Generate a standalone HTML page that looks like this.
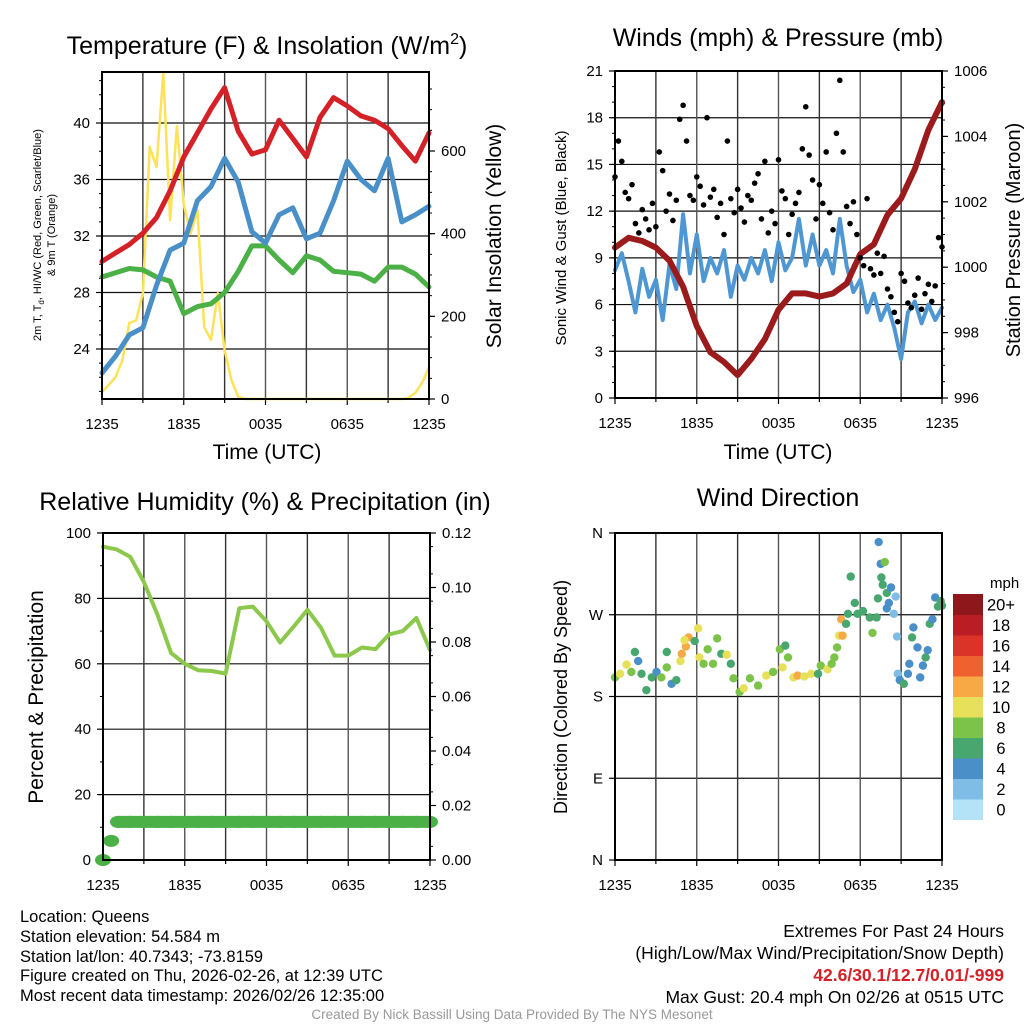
<!DOCTYPE html>
<html><head><meta charset="utf-8">
<style>
html,body{margin:0;padding:0;background:#fff;}
#wrap{position:relative;width:1024px;height:1024px;overflow:hidden;font-family:"Liberation Sans",sans-serif;}
svg text{font-family:"Liberation Sans",sans-serif;}
</style></head>
<body>
<div id="wrap">
<svg id="chart" width="1024" height="1024" viewBox="0 0 1024 1024" xmlns="http://www.w3.org/2000/svg">
<text x="267" y="54" font-size="25" text-anchor="middle">Temperature (F) &amp; Insolation (W/m<tspan dy="-10" font-size="16">2</tspan><tspan dy="10">)</tspan></text>
<text x="778" y="46" font-size="25" text-anchor="middle">Winds (mph) &amp; Pressure (mb)</text>
<text x="265" y="510" font-size="25" text-anchor="middle">Relative Humidity (%) &amp; Precipitation (in)</text>
<text x="778" y="506" font-size="25" text-anchor="middle">Wind Direction</text>
<text transform="translate(41,235) rotate(-90)" font-size="11" text-anchor="middle">2m T, T<tspan font-size="8" dy="3">d</tspan><tspan dy="-3">, HI/WC (Red, Green, Scarlet/Blue)</tspan></text>
<text transform="translate(55,235) rotate(-90)" font-size="11" text-anchor="middle">&amp; 9m T (Orange)</text>
<text transform="translate(501,236) rotate(-90)" font-size="21" text-anchor="middle">Solar Insolation (Yellow)</text>
<text x="267" y="459" font-size="21" text-anchor="middle">Time (UTC)</text>
<text x="778" y="459" font-size="21" text-anchor="middle">Time (UTC)</text>
<text transform="translate(566,238) rotate(-90)" font-size="15" text-anchor="middle">Sonic Wind &amp; Gust (Blue, Black)</text>
<text transform="translate(1020,240) rotate(-90)" font-size="20" text-anchor="middle">Station Pressure (Maroon)</text>
<text transform="translate(43,697) rotate(-90)" font-size="21" text-anchor="middle">Percent &amp; Precipitation</text>
<text transform="translate(567,697) rotate(-90)" font-size="18" text-anchor="middle">Direction (Colored By Speed)</text>
<g font-size="16.5">
<text x="20" y="922">Location: Queens</text>
<text x="20" y="942">Station elevation: 54.584 m</text>
<text x="20" y="962">Station lat/lon: 40.7343; -73.8159</text>
<text x="20" y="981">Figure created on Thu, 2026-02-26, at 12:39 UTC</text>
<text x="20" y="1001">Most recent data timestamp: 2026/02/26 12:35:00</text>
</g>
<g font-size="17.5" text-anchor="end">
<text x="1004" y="937">Extremes For Past 24 Hours</text>
<text x="1004" y="959">(High/Low/Max Wind/Precipitation/Snow Depth)</text>
<text x="1004" y="981" fill="#d42027" font-weight="bold">42.6/30.1/12.7/0.01/-999</text>
<text x="1004" y="1003">Max Gust: 20.4 mph On 02/26 at 0515 UTC</text>
</g>
<text x="512" y="1019" font-size="13.5" fill="#999" text-anchor="middle">Created By Nick Bassill Using Data Provided By The NYS Mesonet</text>
<text x="990" y="588" font-size="15">mph</text>
</svg>
</div>
<script>
// ---- data ----
const hoursHourly=[0,1,2,3,4,5,6,7,8,9,10,11,12,13,14,15,16,17,18,19,20,21,22,23,24];
const xTickLabels=["1235","1835","0035","0635","1235"];
const tempRed=[30.2,30.8,31.4,32.2,33.3,35.2,37.6,39.3,41.0,42.5,39.4,37.8,38.1,40.2,38.9,37.6,40.4,41.8,41.2,40.5,40.2,39.6,38.4,37.3,39.3];
const tempBlue=[22.3,23.5,25.0,25.5,28.5,31.0,31.5,34.5,35.5,37.5,35.8,32.3,31.5,33.5,34.0,31.8,32.2,34.5,37.3,36.0,35.2,37.5,33.0,33.5,34.1];
const tempGreen=[29.1,29.4,29.7,29.6,29.1,28.8,26.5,27.0,27.2,28.0,29.5,31.3,31.3,30.3,29.4,30.6,30.3,29.5,29.4,29.3,28.8,29.8,29.8,29.3,28.4];
const solarVals=[17,34,53,94,184,190,256,610,561,789,433,660,470,400,457,174,143,256,118,46,5,0,0,0,0,0,0,0,0,0,0,0,0,0,0,0,0,0,0,0,0,0,0,0,0,3,15,40,77];
const tempTicks=[24,28,32,36,40];
const solarTicks=[0,200,400,600];
const pressureVals=[1000.6,1000.9,1000.8,1000.6,1000.2,999.4,998.2,997.4,997.1,996.7,997.2,997.8,998.7,999.2,999.2,999.1,999.2,999.5,1000.4,1000.7,1001.6,1002.1,1003.0,1004.2,1005.05];
const windVals=[8.2,9.3,7.5,5.5,8.3,6.5,7.6,5.0,8.6,7.0,11.8,8.0,10.5,7.5,9.0,8.0,9.5,6.5,8.5,7.6,9.0,8.0,9.5,7.5,10.0,8.2,9.0,11.5,8.5,10.5,8.5,9.5,8.0,11.5,8.5,6.8,7.6,5.5,6.7,5.0,6.0,4.5,2.5,5.5,6.2,4.8,6.0,5.0,5.8];
const gustVals=[14.2,16.5,15.2,13.2,12.8,13.7,11.2,10.6,12.1,11.5,10.8,12.5,11.0,15.8,14.6,12.0,13.1,11.4,12.7,17.9,18.8,16.5,13.0,12.7,14.2,13.6,12.4,18.0,12.9,13.4,11.6,12.5,10.5,16.5,12.8,11.9,13.4,12.2,11.3,13.0,12.7,13.8,14.4,11.5,15.2,10.6,12.0,11.2,15.3,13.3,12.8,10.5,11.8,12.5,13.2,16.0,18.7,15.6,14.0,11.5,13.7,12.5,15.8,11.9,10.8,17.0,20.4,15.8,12.3,11.2,12.6,10.5,9.0,8.5,12.8,8.3,7.9,9.3,8.0,9.1,7.0,6.5,5.5,4.9,8.0,7.5,6.1,5.8,6.6,7.7,5.7,6.7,7.3,6.2,7.2,10.3,9.7];
const windTicks=[0,3,6,9,12,15,18,21];
const pressureTicks=[996,998,1000,1002,1004,1006];
const rhVals=[95.8,95.0,92.7,85.0,75.0,63.3,60.0,58.0,57.8,57.0,77.0,77.5,73.0,66.5,71.4,76.5,71.0,62.5,62.5,65.0,64.5,69.0,70.0,74.0,64.2];
const precipHours=[0,0.6,1.1,2,3,4,5,6,7,8,9,10,11,12,13,14,15,16,17,18,19,20,21,22,23,24];
const precipVals=[0,0.007,0.014,0.014,0.014,0.014,0.014,0.014,0.014,0.014,0.014,0.014,0.014,0.014,0.014,0.014,0.014,0.014,0.014,0.014,0.014,0.014,0.014,0.014,0.014,0.014];
const rhTicks=[0,20,40,60,80,100];
const precipTicks=["0.00","0.02","0.04","0.06","0.08","0.10","0.12"];
const dirHours=[0,0.37,0.85,1.2,1.46,1.7,1.95,2.3,2.7,3.05,3.4,3.8,3.8,4.15,4.5,4.8,4.9,5.2,5.4,5.1,5.85,6.1,6.2,6.5,6.8,7.2,7.5,7.8,8.2,8.5,8.7,9.15,9.45,9.9,10.5,11.1,11.6,12.1,12.5,12.3,12.7,13.1,13.4,13.9,14.4,14.9,15.1,15.6,15.9,16.1,16.3,16.45,16.6,16.7,16.96,17.1,17.3,17.6,17.8,18.2,18.7,18.9,19.2,19.3,19.35,19.5,19.8,19.55,19.65,19.95,20.1,20.26,19.95,20.46,20.6,20.7,20.75,20.9,21.2,21.5,21.6,21.8,21.9,22.2,22.4,22.6,22.8,22.95,23.1,23.3,23.5,23.7,23.9,24];
const dirDegrees=[201,205,215,207,229,219,205,187,201,207,201,212,229,194,198,219,227,235,245,242,241,255,223,216,232,216,244,227,226,216,200,185,189,200,192,203,207,232,236,212,223,201,203,202,205,205,214,210,216,223,234,247,265,247,260,271,312,283,271,274,267,250,267,288,350,326,328,311,303,294,283,300,277,271,290,246,205,198,194,205,216,245,256,234,201,214,223,231,260,265,289,279,285,280];
const dirSpeeds=[8,10,10,8,6,4,6,6,7,4,8,8,6,4,6,10,12,12,12,10,6,10,10,8,8,8,8,6,10,6,8,8,10,8,8,10,8,8,6,10,8,10,12,10,10,6,8,10,8,8,8,10,12,12,6,6,6,6,6,6,6,8,6,6,4,4,8,6,6,6,4,4,4,2,2,2,2,4,6,4,4,6,4,4,4,4,6,4,6,4,4,6,6,6];
const dirTickLabels=["N","E","S","W","N"];
const cbarLabels=["0","2","4","6","8","10","12","14","16","18","20+"];
const cbarColors=["#b4e3f8","#80bde6","#4a8fc7","#48a66f","#7cc34a","#e7e05a","#f6a944","#ef622f","#dc3328","#bb1d24","#8e171b"];

const NS="http://www.w3.org/2000/svg";
const svg=document.getElementById('chart');
function mk(tag,attrs,parent){const e=document.createElementNS(NS,tag);for(const k in attrs)e.setAttribute(k,attrs[k]);(parent||svg).appendChild(e);return e;}
function lin(d0,d1,r0,r1){return v=>r0+(v-d0)*(r1-r0)/(d1-d0);}

function panel(name,L,R,T,B,hGridVals,yScale){
  const g=mk('g',{});
  
  
  hGridVals.forEach(v=>{mk('line',{x1:L,x2:R,y1:yScale(v),y2:yScale(v),stroke:'#111','stroke-width':1.2},g);});
  for(let i=0;i<=8;i++){const x=L+(R-L)*i/8;mk('line',{x1:x,x2:x,y1:T,y2:B,stroke:i%2?'#333':'#555','stroke-width':1.4},g);}
  return g;
}
function frame(name,L,R,T,B){const r=mk('rect',{x:L,y:T,width:R-L,height:B-T,fill:'none',stroke:'#000','stroke-width':2});
  
  }
function xAxis(name,L,R,B){
  const xs=lin(0,24,L,R);
  const g=mk('g',{});
  
  
  for(let i=0;i<=8;i++){const x=xs(i*3);mk('line',{x1:x,x2:x,y1:B,y2:B+(i%2?4:6),stroke:'#000','stroke-width':1.2},g);}
  xTickLabels.forEach((t,i)=>{const tx=mk('text',{x:xs(i*6),y:B+30,'font-size':15,'text-anchor':'middle'},g);tx.textContent=t;});
  return xs;
}
function yAxisLeft(name,L,ticks,scale,labels,minor){
  const g=mk('g',{});
  
  
  ticks.forEach((v,i)=>{const y=scale(v);mk('line',{x1:L-6,x2:L,y1:y,y2:y,stroke:'#000','stroke-width':1.2},g);
    const t=mk('text',{x:L-12,y:y+5,'font-size':15,'text-anchor':'end'},g);t.textContent=labels?labels[i]:v;});
  (minor||[]).forEach(v=>{const y=scale(v);mk('line',{x1:L-3,x2:L,y1:y,y2:y,stroke:'#000'},g);});
}
function yAxisRight(name,R,ticks,scale,labels,minor){
  const g=mk('g',{});
  
  
  ticks.forEach((v,i)=>{const y=scale(v);mk('line',{x1:R,x2:R+6,y1:y,y2:y,stroke:'#000','stroke-width':1.2},g);
    const t=mk('text',{x:R+12,y:y+5,'font-size':15,'text-anchor':'start'},g);t.textContent=labels?labels[i]:v;});
  (minor||[]).forEach(v=>{const y=scale(v);mk('line',{x1:R,x2:R+3,y1:y,y2:y,stroke:'#000'},g);});
}
function line(name,xsArr,ys,xs,ysc,color,w){
  const d=xsArr.map((h,i)=>(i?'L':'M')+xs(h).toFixed(1)+','+ysc(ys[i]).toFixed(1)).join(' ');
  const p=mk('path',{d:d,fill:'none',stroke:color,'stroke-width':w,'stroke-linejoin':'round','stroke-linecap':'round'});
  
  
}
function range(a,b,s){const r=[];for(let v=a;v<=b+1e-9;v+=s)r.push(+v.toFixed(4));return r;}

// ---- Panel 1: temperature ----
{const L=102,R=429,T=72,B=399;
 const yT=lin(24,28,349,292.5), yS=lin(0,600,399,151);
 panel('temp',L,R,T,B,tempTicks,yT);
 const xs=xAxis('temp',L,R,B);
 yAxisLeft('temp-y-axis',L,tempTicks,yT,null,range(21,43,1));
 yAxisRight('solar-y-axis',R,solarTicks,yS,null,range(50,750,50));
 line('solar-line',solarVals.map((v,i)=>i*0.5),solarVals,xs,yS,'#fde25a',2.5);
 line('dewpoint-line',hoursHourly,tempGreen,xs,yT,'#4bb045',5);
 line('windchill-line',hoursHourly,tempBlue,xs,yT,'#4a90c8',5);
 line('temperature-line',hoursHourly,tempRed,xs,yT,'#d42027',5);
 frame('temp',L,R,T,B);}

// ---- Panel 2: wind & pressure ----
{const L=615,R=942,T=71,B=398;
 const yW=lin(0,21,398,71), yP=lin(996,1006,398,71);
 panel('wind',L,R,T,B,windTicks,yW);
 const xs=xAxis('wind',L,R,B);
 yAxisLeft('wind-y-axis',L,windTicks,yW,null,range(1,20,1));
 yAxisRight('pressure-y-axis',R,pressureTicks,yP,null,range(996.5,1005.5,0.5));
 line('sonic-wind-line',windVals.map((v,i)=>i*0.5),windVals,xs,yW,'#4f97d2',4);
 line('pressure-line',hoursHourly,pressureVals,xs,yP,'#9b1b1d',6);
 const g=mk('g',{});
 
 
 gustVals.forEach((v,i)=>{const c=mk('circle',{cx:xs(i*0.25),cy:yW(v),r:2.8,fill:'#000'},g);
   
   });
 frame('wind',L,R,T,B);}

// ---- Panel 3: RH & precip ----
{const L=103,R=430,T=533,B=860;
 const yR=lin(0,100,860,533), yPr=lin(0,0.12,860,533);
 panel('rh',L,R,T,B,rhTicks,yR);
 const xs=xAxis('rh',L,R,B);
 yAxisLeft('rh-y-axis',L,rhTicks,yR,null,range(10,90,20));
 yAxisRight('precip-y-axis',R,precipTicks.map(Number),yPr,precipTicks,range(0.005,0.115,0.01));
 line('rh-line',hoursHourly,rhVals,xs,yR,'#8cc84b',4);
 const g=mk('g',{});
 
 
 for(let i=1;i<precipVals.length;i++){if(precipVals[i]===precipVals[i-1]){
   mk('line',{x1:xs(precipHours[i-1]),x2:xs(precipHours[i]),y1:yPr(precipVals[i]),y2:yPr(precipVals[i]),stroke:'#4bb045','stroke-width':12,'stroke-linecap':'round'},g);}}
 precipVals.forEach((v,i)=>{const e=mk('ellipse',{cx:xs(precipHours[i]),cy:yPr(v),rx:8,ry:6,fill:'#4bb045'},g);
   
   });
 mk('line',{x1:L,x2:L,y1:T,y2:B,stroke:'#000','stroke-width':2});
 frame('rh',L,R,T,B);}

// ---- Panel 4: wind direction ----
{const L=615,R=942,T=533,B=860;
 const yD=lin(0,360,860,533);
 panel('dir',L,R,T,B,[0,90,180,270,360],yD);
 const xs=xAxis('dir',L,R,B);
 yAxisLeft('dir-y-axis',L,[0,90,180,270,360],yD,dirTickLabels,[]);
 const g=mk('g',{});
 
 
 dirDegrees.forEach((d,i)=>{const idx=Math.min(10,Math.floor(dirSpeeds[i]/2));
   const c=mk('circle',{cx:xs(dirHours[i]),cy:yD(d),r:4.2,fill:cbarColors[idx]},g);
   
   });
 frame('dir',L,R,T,B);
 const cb=mk('g',{});
 
 
 const top=594,h=20.5;
 cbarColors.forEach((c,i)=>{const y=top+(10-i)*h;
   mk('rect',{x:953,y:y,width:30,height:h+0.5,fill:c},cb);
   const t=mk('text',{x:1001,y:y+h/2+6,'font-size':16.5,'text-anchor':'middle'},cb);t.textContent=cbarLabels[i];});
}
</script>
</body></html>
